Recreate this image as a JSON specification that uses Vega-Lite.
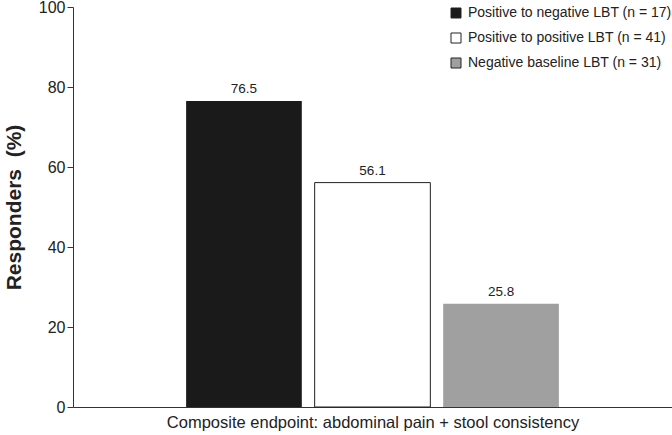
{
  "$schema": "https://vega.github.io/schema/vega-lite/v6.json",
  "width": 599,
  "height": 400,
  "autosize": "none",
  "padding": {"left": 73, "top": 7, "right": 0, "bottom": 28},
  "background": "white",
  "data": {
    "values": [
      {"group": "Positive to negative LBT (n = 17)", "responders": 76.5},
      {"group": "Positive to positive LBT (n = 41)", "responders": 56.1},
      {"group": "Negative baseline LBT (n = 31)", "responders": 25.8}
    ]
  },
  "encoding": {
    "x": {
      "field": "group",
      "type": "nominal",
      "sort": null,
      "scale": {"paddingInner": 0.1, "paddingOuter": 0.88},
      "axis": {
        "title": "Composite endpoint: abdominal pain + stool consistency",
        "labels": false,
        "ticks": false,
        "domainColor": "#333333",
        "titleFontSize": 16.5,
        "titleFontWeight": "normal",
        "titleColor": "#222222",
        "titlePadding": 7
      }
    },
    "y": {
      "field": "responders",
      "type": "quantitative",
      "scale": {"domain": [0, 100], "nice": false},
      "axis": {
        "title": "Responders\u00a0\u00a0(%)",
        "values": [0, 20, 40, 60, 80, 100],
        "grid": false,
        "tickSize": 6,
        "tickColor": "#333333",
        "domainColor": "#333333",
        "labelFontSize": 16,
        "labelColor": "#222222",
        "labelPadding": 2,
        "titleFontSize": 21,
        "titleFontWeight": "bold",
        "titleColor": "#222222",
        "titlePadding": 14
      }
    }
  },
  "layer": [
    {
      "mark": {"type": "bar", "stroke": "#222222", "strokeWidth": 1},
      "encoding": {
        "color": {
          "field": "group",
          "type": "nominal",
          "sort": null,
          "scale": {
            "domain": ["Positive to negative LBT (n = 17)", "Positive to positive LBT (n = 41)", "Negative baseline LBT (n = 31)"],
            "range": ["#1a1a1a", "#ffffff", "#a0a0a0"]
          },
          "legend": {
            "title": null,
            "orient": "none",
            "legendX": 376,
            "legendY": -1,
            "symbolType": "square",
            "symbolSize": 100,
            "symbolStrokeColor": "#222222",
            "symbolStrokeWidth": 1,
            "labelFontSize": 14,
            "labelLimit": 0,
            "labelColor": "#222222",
            "rowPadding": 11,
            "labelOffset": 5
          }
        },
        "stroke": {
          "condition": {"test": "datum.group == 'Positive to positive LBT (n = 41)'", "value": "#222222"},
          "value": null
        }
      }
    },
    {
      "mark": {"type": "text", "dy": -12, "fontSize": 13.5, "color": "#222222"},
      "encoding": {
        "text": {"field": "responders", "type": "quantitative", "format": ".1f"}
      }
    }
  ],
  "config": {
    "font": "Liberation Sans",
    "view": {"stroke": null}
  }
}
